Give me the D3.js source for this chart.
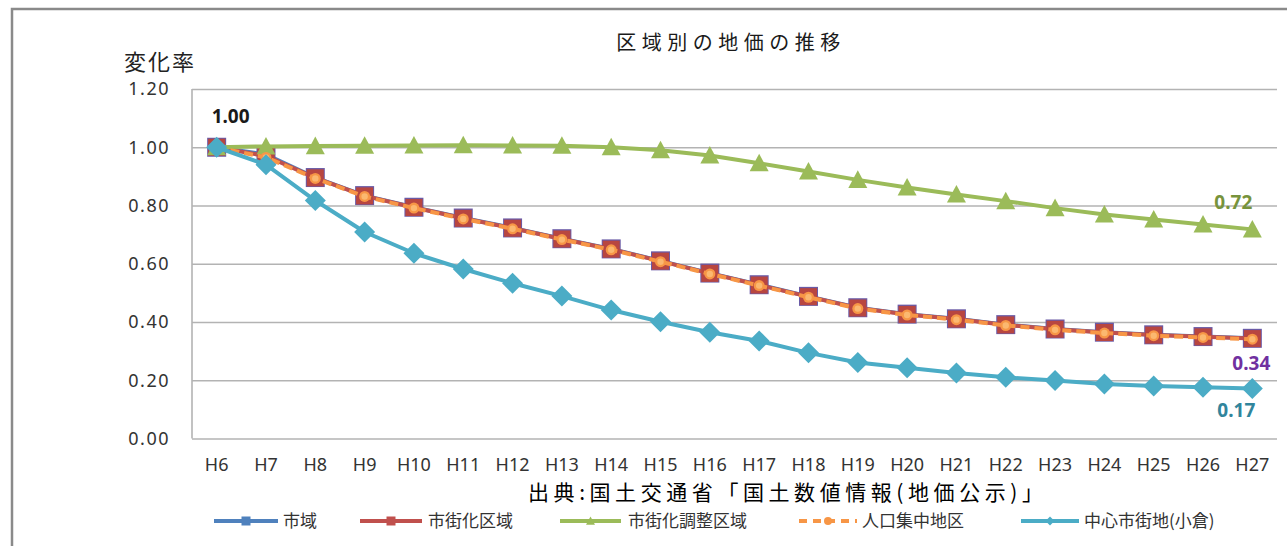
<!DOCTYPE html>
<html>
<head>
<meta charset="utf-8">
<script src="https://cdn.jsdelivr.net/npm/d3@7"></script>
<style>
  html, body { margin: 0; padding: 0; background: #fff; }
  svg { display: block; }
</style>
</head>
<body>
<svg id="chart" width="1287" height="546"></svg>
<script>
// Fiscal years (Heisei) along the x axis
const years = ["H6","H7","H8","H9","H10","H11","H12","H13","H14","H15","H16",
               "H17","H18","H19","H20","H21","H22","H23","H24","H25","H26","H27"];

// Land price change ratio relative to H6 (= 1.00)
const cityArea       = [1.00,0.975,0.896,0.834,0.794,0.757,0.723,0.686,0.651,0.610,0.568,0.528,0.488,0.449,0.427,0.411,0.391,0.376,0.365,0.356,0.350,0.344];
const urbanArea      = [1.00,0.970,0.895,0.833,0.793,0.756,0.722,0.685,0.650,0.609,0.567,0.527,0.487,0.448,0.426,0.410,0.390,0.375,0.364,0.355,0.349,0.343];
const controlArea    = [1.00,1.003,1.004,1.005,1.006,1.007,1.006,1.005,1.000,0.990,0.972,0.945,0.917,0.888,0.862,0.838,0.815,0.791,0.769,0.752,0.735,0.718];
const didArea        = [1.00,0.965,0.893,0.831,0.791,0.754,0.720,0.683,0.648,0.607,0.565,0.525,0.485,0.446,0.424,0.408,0.388,0.373,0.362,0.353,0.347,0.341];
const centralArea    = [1.00,0.940,0.817,0.709,0.636,0.582,0.533,0.489,0.441,0.401,0.365,0.335,0.294,0.261,0.243,0.225,0.210,0.199,0.187,0.180,0.176,0.172];

const seriesNames = ["市域","市街化区域","市街化調整区域","人口集中地区","中心市街地(小倉)"];
const yTicks = [0, 0.2, 0.4, 0.6, 0.8, 1.0, 1.2];

const jp = "'Noto Sans CJK JP', 'Noto Sans', sans-serif";
const num = "'Noto Sans', 'Liberation Sans', sans-serif";

const series = [
  { name: seriesNames[0], values: cityArea,    color: "#4f81bd", marker: "square",   dash: null },
  { name: seriesNames[1], values: urbanArea,   color: "#c0504d", marker: "square",   dash: null },
  { name: seriesNames[2], values: controlArea, color: "#9bbb59", marker: "triangle", dash: null },
  { name: seriesNames[3], values: didArea,     color: "#f79646", marker: "circle",   dash: "9,5" },
  { name: seriesNames[4], values: centralArea, color: "#4bacc6", marker: "diamond",  dash: null }
];

const svg = d3.select("#chart");

// Outer frame of the figure
svg.append("rect")
  .attr("x", 12).attr("y", 9)
  .attr("width", 1300).attr("height", 560)
  .attr("fill", "none").attr("stroke", "#8a8a8a").attr("stroke-width", 2.5);

const plot = { left: 192, right: 1277, top: 89, bottom: 438.5 };

const x = d3.scaleBand().domain(years).range([plot.left, plot.right]).paddingInner(0).paddingOuter(0);
const xc = d => x(d) + x.bandwidth() / 2;
const y = d3.scaleLinear().domain([0, 1.2]).range([plot.bottom, plot.top]);

// Horizontal gridlines
svg.append("g")
  .attr("transform", `translate(${plot.left},0)`)
  .call(d3.axisLeft(y).tickValues(yTicks).tickSize(-(plot.right - plot.left)).tickFormat(""))
  .call(g => g.select(".domain").remove())
  .call(g => g.selectAll("line").attr("stroke", "#b3b3b3").attr("stroke-width", 1.6));

// Left axis line
svg.append("line")
  .attr("x1", plot.left).attr("x2", plot.left)
  .attr("y1", plot.top).attr("y2", plot.bottom)
  .attr("stroke", "#b3b3b3").attr("stroke-width", 1.6);

// Y tick labels
svg.append("g")
  .attr("transform", `translate(170,0)`)
  .call(d3.axisLeft(y).tickValues(yTicks).tickSize(0).tickFormat(d3.format(".2f")))
  .call(g => g.select(".domain").remove())
  .call(g => g.selectAll("text")
    .attr("x", 0)
    .attr("text-anchor", "end")
    .attr("font-family", num).attr("font-size", 18).attr("letter-spacing", 1.5)
    .attr("fill", "#333"));

// X tick labels
svg.append("g")
  .attr("transform", `translate(0,${plot.bottom})`)
  .call(d3.axisBottom(x).tickSize(0).tickPadding(20))
  .call(g => g.select(".domain").remove())
  .call(g => g.selectAll("text")
    .attr("font-family", num).attr("font-size", 18)
    .attr("fill", "#333"));

// Title and axis caption
svg.append("text")
  .attr("x", 731).attr("y", 50)
  .attr("text-anchor", "middle")
  .attr("font-family", jp).attr("font-size", 20).attr("letter-spacing", 5.5)
  .attr("fill", "#1a1a1a")
  .text("区域別の地価の推移");

svg.append("text")
  .attr("x", 124).attr("y", 70)
  .attr("font-family", jp).attr("font-size", 22).attr("letter-spacing", 2)
  .attr("fill", "#222")
  .text("変化率");

// Marker shapes
function markerPath(type, size) {
  const s = size / 2;
  if (type === "square") return `M${-s},${-s}H${s}V${s}H${-s}Z`;
  if (type === "triangle") return `M0,${-s}L${s},${s * 0.85}L${-s},${s * 0.85}Z`;
  if (type === "diamond") return `M0,${-s}L${s},0L0,${s}L${-s},0Z`;
  return d3.symbol(d3.symbolCircle, Math.PI * s * s)();
}

const line = d3.line().x((d, i) => xc(years[i])).y(d => y(d));

const layer = svg.append("g");
series.forEach(s => {
  const g = layer.append("g");
  g.append("path")
    .datum(s.values)
    .attr("d", line)
    .attr("fill", "none")
    .attr("stroke", s.color)
    .attr("stroke-width", 4)
    .attr("stroke-linejoin", "round")
    .attr("stroke-dasharray", s.dash);

  const size = s.marker === "square" ? (s.color === "#4f81bd" ? 19 : 17)
             : s.marker === "triangle" ? 19
             : s.marker === "diamond" ? 21 : 11;
  let fill = s.color;
  if (s.color === "#4f81bd") { fill = "#6a5aa6"; }
  if (s.color === "#c0504d") { fill = "#b84640"; }
  g.selectAll("path.mk")
    .data(s.values)
    .join("path")
    .attr("class", "mk")
    .attr("transform", (d, i) => `translate(${xc(years[i])},${y(d)})`)
    .attr("d", markerPath(s.marker, size))
    .attr("fill", fill);

  if (s.marker === "circle") {
    g.selectAll("circle.hl")
      .data(s.values)
      .join("circle")
      .attr("class", "hl")
      .attr("cx", (d, i) => xc(years[i]))
      .attr("cy", d => y(d))
      .attr("r", 3.2)
      .attr("fill", "#fbb870");
  }
});

// Value labels
const last = years.length - 1;
const labels = [
  { text: d3.format(".2f")(cityArea[0]),       x: xc(years[0]) - 5,      y: y(cityArea[0]) - 31,       color: "#1a1a1a", anchor: "start" },
  { text: d3.format(".2f")(controlArea[last]), x: xc(years[last]) - 19, y: y(controlArea[last]) - 27, color: "#77933c", anchor: "middle" },
  { text: d3.format(".2f")(urbanArea[last]),   x: xc(years[last]) - 1,  y: y(urbanArea[last]) + 25,   color: "#7030a0", anchor: "middle" },
  { text: d3.format(".2f")(centralArea[last]), x: xc(years[last]) - 16, y: y(centralArea[last]) + 22, color: "#31859c", anchor: "middle" }
];
svg.append("g").selectAll("text")
  .data(labels)
  .join("text")
  .attr("x", d => d.x).attr("y", d => d.y)
  .attr("dy", "0.35em")
  .attr("text-anchor", d => d.anchor)
  .attr("font-family", num).attr("font-size", 19).attr("font-weight", "bold")
  .attr("fill", d => d.color)
  .text(d => d.text);

// Source note
svg.append("text")
  .attr("x", 528).attr("y", 499.5)
  .attr("font-family", jp).attr("font-size", 21)
  .attr("textLength", 515).attr("lengthAdjust", "spacing")
  .attr("fill", "#000")
  .text("出典:国土交通省「国土数値情報(地価公示)」");

// Legend
const legendItems = [
  { x0: 214, x1: 278, tx: 283 },
  { x0: 360, x1: 422, tx: 428 },
  { x0: 560, x1: 621, tx: 628 },
  { x0: 799, x1: 857, tx: 862 },
  { x0: 1021, x1: 1079, tx: 1084 }
];
const legendY = 521;
const legend = svg.append("g");
series.forEach((s, i) => {
  const p = legendItems[i];
  legend.append("line")
    .attr("x1", p.x0).attr("x2", p.x1)
    .attr("y1", legendY).attr("y2", legendY)
    .attr("stroke", s.color).attr("stroke-width", 4)
    .attr("stroke-dasharray", s.dash ? "8,6" : null);
  const msize = s.marker === "circle" ? 8 : 9;
  legend.append("path")
    .attr("transform", `translate(${(p.x0 + p.x1) / 2},${legendY})`)
    .attr("d", markerPath(s.marker, msize))
    .attr("fill", s.color);
  legend.append("text")
    .attr("x", p.tx).attr("y", legendY)
    .attr("dy", "0.36em")
    .attr("font-family", jp).attr("font-size", 17)
    .attr("fill", "#333")
    .text(s.name);
});
</script>
</body>
</html>
